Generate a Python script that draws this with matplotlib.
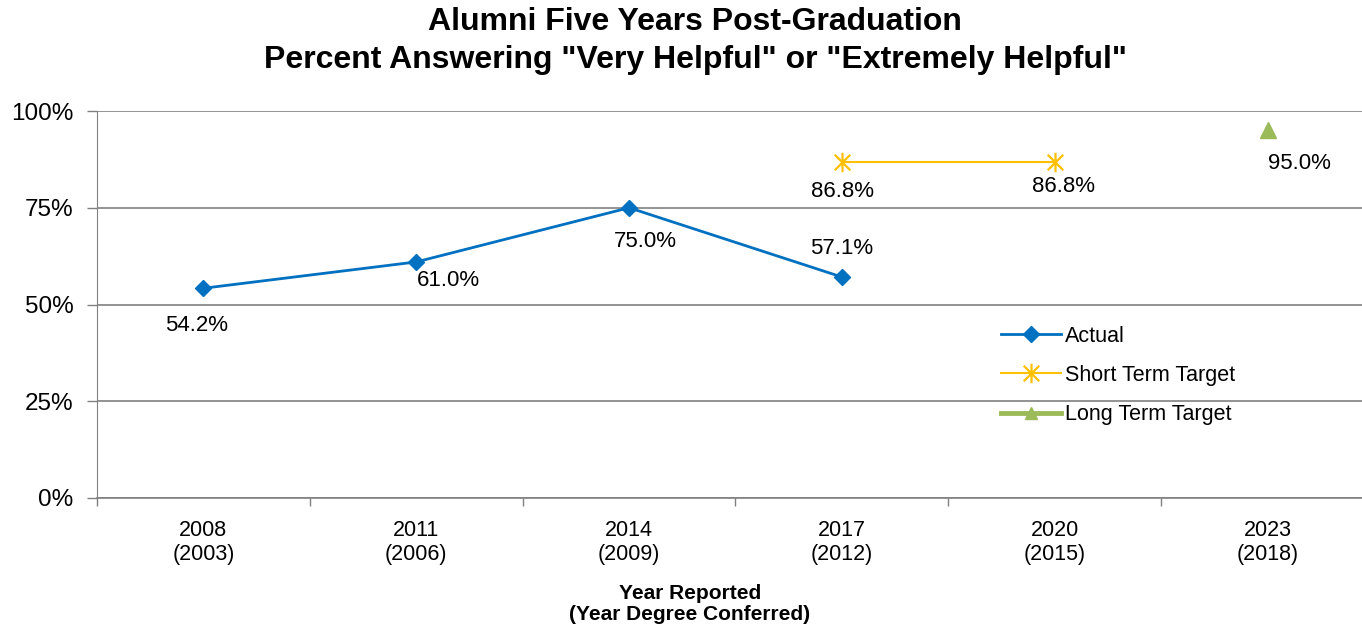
import matplotlib
matplotlib.use("Agg")
import matplotlib.pyplot as plt
from matplotlib.path import Path
import numpy as np

plt.rcParams['font.family'] = ['Liberation Sans', 'DejaVu Sans']

categories = ["2008\n(2003)", "2011\n(2006)", "2014\n(2009)", "2017\n(2012)", "2020\n(2015)", "2023\n(2018)"]
actual_x = [0, 1, 2, 3]
actual = [54.2, 61.0, 75.0, 57.1]
short_x = [3, 4]
short_term = [86.8, 86.8]
long_x = [5]
long_term = [95.0]

yticks = [0, 25, 50, 75, 100]
ytick_labels = ["0%", "25%", "50%", "75%", "100%"]

fig = plt.figure(figsize=(13.62, 6.30), dpi=100)
W, H = 1362, 630
ax = fig.add_axes([97 / W, (H - 498) / H, 1277 / W, 387 / H])

star = Path([(0, -1), (0, 1), (-0.8, -0.8), (0.8, 0.8), (-0.8, 0.8), (0.8, -0.8)],
            [Path.MOVETO, Path.LINETO, Path.MOVETO, Path.LINETO, Path.MOVETO, Path.LINETO])

ax.plot(actual_x, actual, color='#0070C0', lw=2, marker='D', ms=8, label='Actual', zorder=3)
ax.plot(short_x, short_term, color='#FFC000', lw=1.5, marker=star, ms=14, mew=1.6,
        mec='#FFC000', label='Short Term Target', zorder=3)
ax.plot(long_x, long_term, color='#9BBB59', lw=3.5, marker='^', ms=12, label='Long Term Target',
        linestyle='-', zorder=3)

labels = [(0, 54.2, "54.2%", -7, -37), (1, 61.0, "61.0%", 32, -19), (2, 75.0, "75.0%", 16, -34),
          (3, 57.1, "57.1%", 0, 29), (3, 86.8, "86.8%", 1, -29), (4, 86.8, "86.8%", 9, -24),
          (5, 95.0, "95.0%", 32, -33)]
for x, y, t, dx, dy in labels:
    ax.annotate(t, (x, y), xytext=(dx, dy), textcoords='offset pixels',
                ha='center', va='center', fontsize=16, color='#000000')

ax.set_xlim(-0.5, 5.5)
ax.set_ylim(0, 100)
ax.set_yticks(yticks)
ax.set_yticklabels(ytick_labels, fontsize=17.5)
ax.set_xticks(range(len(categories)))
ax.set_xticklabels(categories, fontsize=15.5, linespacing=1.15)
ax.set_xticks(np.arange(-0.5, 6, 1), minor=True)
ax.tick_params(axis='x', which='major', length=0, pad=16)
ax.tick_params(axis='x', which='minor', length=6, color='#808080', width=1)
ax.tick_params(axis='y', length=7, color='#808080', width=1, pad=10)
ax.yaxis.grid(True, color='#808080', lw=1.2)
ax.set_axisbelow(True)
for s in ['top', 'right']:
    ax.spines[s].set_visible(False)
ax.spines['left'].set_color('#808080')
ax.spines['bottom'].set_color('#808080')
ax.spines['bottom'].set_linewidth(1.2)

leg = ax.legend(loc='upper left', bbox_to_anchor=(895 / 1277, 1 - (317 - 111) / 387),
                frameon=False, fontsize=15.5, handlelength=2.8, labelspacing=0.85, handletextpad=0.2,
                borderaxespad=0)
for h in leg.legend_handles:
    if h.get_marker() == '^':
        h.set_markersize(9)

fig.text(695 / W, 1 - 41 / H, 'Alumni Five Years Post-Graduation\nPercent Answering "Very Helpful" or "Extremely Helpful"',
         ha='center', va='center', fontsize=23, fontweight='bold', linespacing=1.33)
fig.text(690 / W, 1 - 604 / H, 'Year Reported\n(Year Degree Conferred)', ha='center', va='center',
         fontsize=15, fontweight='bold', linespacing=1.15)

fig.savefig('out.png', dpi=100)
